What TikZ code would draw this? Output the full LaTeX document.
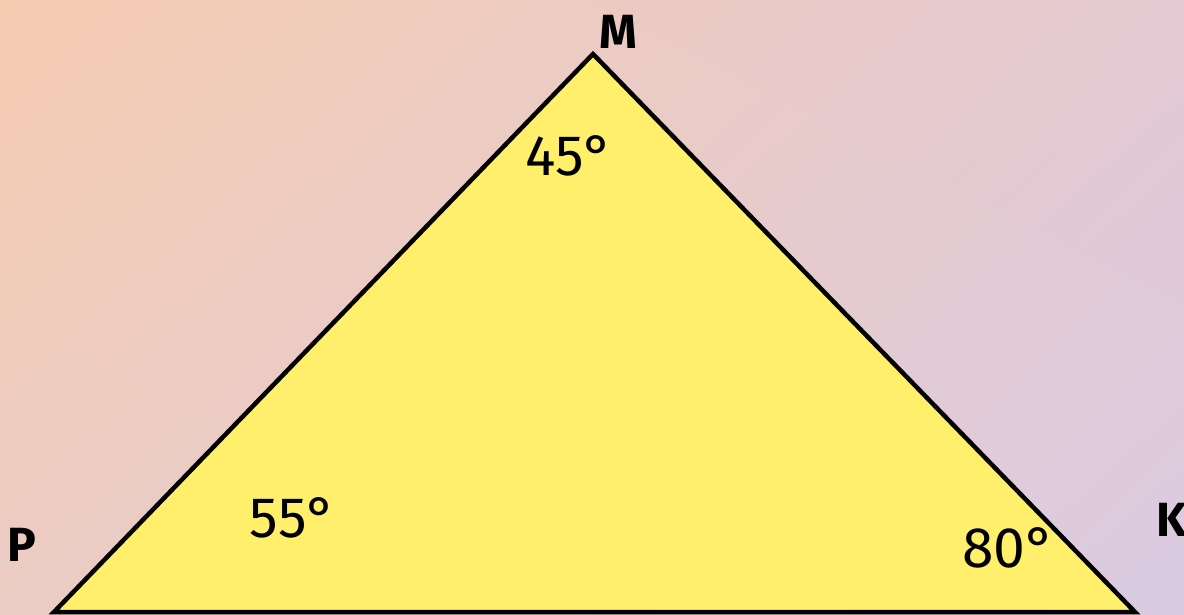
\documentclass[tikz,border=0pt]{standalone}
\usepackage{fontspec}
\setmainfont{Fira Sans}
\usetikzlibrary{shadings}
\definecolor{bgUL}{HTML}{F5CBB0}
\definecolor{bgUR}{HTML}{E4CAD2}
\definecolor{bgLL}{HTML}{EBCCC4}
\definecolor{bgLR}{HTML}{DACBE2}
\definecolor{triFill}{HTML}{FFEF6A}
\tikzset{
  vlabel/.style={font=\fontsize{48}{48}\selectfont\bfseries, text=black, inner sep=0pt},
  alabel/.style={font=\fontsize{57}{57}\selectfont, text=black, inner sep=0pt},
  tri/.style={draw=black, line width=4.5pt, fill=triFill, line join=miter}
}
\begin{document}
\begin{tikzpicture}[x=1pt,y=-1pt]
\useasboundingbox (0,0) rectangle (1184,614);
\clip (0,0) rectangle (1184,614);
\shade[upper left=bgUL, upper right=bgUR, lower left=bgLL, lower right=bgLR] (0,0) rectangle (1184,614);
\coordinate (P) at (54,612);
\coordinate (M) at (593,54);
\coordinate (K) at (1135,612);
\draw[tri] (P) -- (M) -- (K) -- cycle;
\node[vlabel] (lM) at (618,32) {M};
\node[vlabel] (lP) at (22,545) {P};
\node[vlabel, anchor=west] (lK) at (1156,520) {K};
\node[alabel] (aM) at (569,156) {45°};
\node[alabel] (aP) at (293,518) {55°};
\node[alabel] (aK) at (1009,548) {80°};
\end{tikzpicture}
\end{document}
